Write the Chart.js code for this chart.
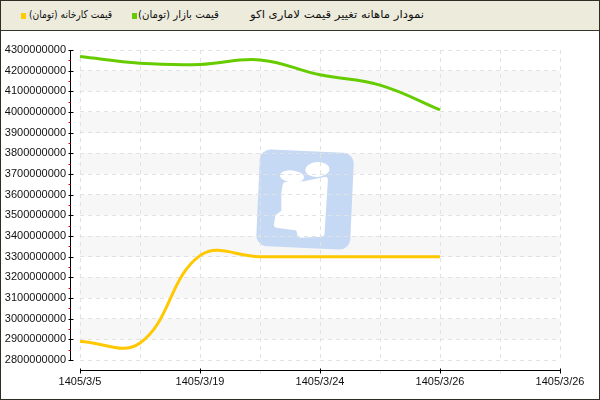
<!DOCTYPE html>
<html>
<head>
<meta charset="utf-8">
<script src="https://cdn.jsdelivr.net/npm/chart.js@4"></script>
<style>
  body { margin: 0; background: #fff; }
  #wrap { position: relative; width: 600px; height: 400px; overflow: hidden; }
  #chart { position: absolute; left: 0; top: 0; }
  #head { position: absolute; left: 0; top: 0; width: 600px; height: 30px; background: #ecebdc;
          border-bottom: 1px solid #35352a; font: 11px "DejaVu Sans"; color: #111; }
  #head span { position: absolute; top: 8px; white-space: nowrap; direction: rtl; transform-origin: left center; }
  #head i { position: absolute; top: 13px; width: 5px; height: 6px; }
  #frame { position: absolute; left: 0; top: 0; width: 598px; height: 398px; border: 1px solid #2d2d24; pointer-events: none; }
</style>
</head>
<body>
<div id="wrap">
  <canvas id="chart" width="600" height="400"></canvas>
  <div id="head">
    <i style="left:21px;background:#ffcc00"></i>
    <span data-w="83" style="left:29px">قیمت کارخانه (تومان)</span>
    <i style="left:132px;background:#66cc00"></i>
    <span data-w="81" style="left:138px">قیمت بازار (تومان)</span>
    <span data-w="174" style="left:250px">نمودار ماهانه تغییر قیمت لاماری اکو</span>
  </div>
  <div id="frame"></div>
</div>
<script>
const categories = ['1405/3/5', '', '1405/3/19', '', '1405/3/24', '', '1405/3/26', '', '1405/3/26'];
const marketPrices = [4268000000, 4236000000, 4230000000, 4252000000, 4180000000, 4130000000, 4010000000];
const factoryPrices = [2890000000, 2882000000, 3305000000, 3300000000, 3300000000, 3300000000, 3300000000];
const yMin = 2800000000;
const yMax = 4300000000;
const yStep = 100000000;

// squeeze the wide DejaVu Arabic glyphs to the widths seen in the picture
document.querySelectorAll('#head span').forEach(s => {
    const w = s.getBoundingClientRect().width;
    s.style.transform = 'scaleX(' + (s.dataset.w / w) + ')';
});

// shaded bands + logo behind the grid
const backdrop = {
    id: 'backdrop',
    beforeDraw(chart) {
        const {ctx, chartArea: a, scales: {y}} = chart;
        ctx.save();
        ctx.fillStyle = '#f7f7f7';
        for (let v = yMin + yStep; v < yMax; v += 2 * yStep) {
            const t = y.getPixelForValue(v + yStep), b = y.getPixelForValue(v);
            ctx.fillRect(a.left, t, a.right - a.left, b - t);
        }
        // watermark
        ctx.translate(305, 200);
        ctx.rotate(0.045);
        ctx.fillStyle = 'rgb(197,216,244)';
        ctx.beginPath();
        ctx.roundRect(-47, -49, 94, 97, 11);
        ctx.fill();
        ctx.fillStyle = '#fff';
        ctx.strokeStyle = '#fff';
        ctx.lineJoin = 'round';
        ctx.lineWidth = 6;
        ctx.beginPath();
        ctx.ellipse(11, -31, 12, 7.5, -0.1, 0, Math.PI * 2);
        ctx.fill();
        ctx.beginPath();
        ctx.ellipse(-14, -23, 12, 6, 0.05, 0, Math.PI * 2);
        ctx.fill();
        ctx.beginPath();
        ctx.moveTo(-20, -14);
        ctx.lineTo(0, -16);
        ctx.lineTo(19, -21);
        ctx.lineTo(18, 33);
        ctx.lineTo(-3, 35);
        ctx.lineTo(-5, 28);
        ctx.lineTo(-27, 26);
        ctx.lineTo(-26, 18);
        ctx.lineTo(-20, 13);
        ctx.lineTo(-21, -5);
        ctx.closePath();
        ctx.fill();
        ctx.stroke();
        ctx.restore();
    }
};

// axis lines sit 10px away from the plot, with black and red ticks
const axes = {
    id: 'axes',
    afterDraw(chart) {
        const {ctx, chartArea: a, scales: {x, y}} = chart;
        const ax = a.left - 10 + 0.5, ay = a.bottom + 10 + 0.5;
        ctx.save();
        ctx.lineWidth = 1;
        ctx.strokeStyle = '#000';
        ctx.beginPath();
        ctx.moveTo(ax, a.top);
        ctx.lineTo(ax, a.bottom);
        ctx.moveTo(a.left, ay);
        ctx.lineTo(a.right, ay);
        for (let v = yMin; v <= yMax; v += yStep) {
            const py = Math.round(y.getPixelForValue(v)) + 0.5;
            ctx.moveTo(ax - 2, py);
            ctx.lineTo(ax + 3, py);
        }
        categories.forEach((c, i) => {
            if (!c) return;
            const px = Math.round(x.getPixelForValue(i)) + 0.5;
            ctx.moveTo(px, ay - 2);
            ctx.lineTo(px, ay + 3);
        });
        ctx.stroke();
        ctx.strokeStyle = '#e00000';
        ctx.beginPath();
        for (let v = yMin + yStep / 2; v < yMax; v += yStep) {
            const py = Math.round(y.getPixelForValue(v)) + 0.5;
            ctx.moveTo(ax - 2, py);
            ctx.lineTo(ax, py);
        }
        ctx.stroke();
        ctx.strokeStyle = '#d8d8d8';
        ctx.beginPath();
        categories.forEach((c, i) => {
            if (c) return;
            const px = Math.round(x.getPixelForValue(i)) + 0.5;
            ctx.moveTo(px, ay + 1);
            ctx.lineTo(px, ay + 3);
        });
        ctx.stroke();
        ctx.restore();
    }
};

const tickFont = {family: '"Liberation Sans", Arial, sans-serif', size: 11};

new Chart(document.getElementById('chart'), {
    type: 'line',
    data: {
        labels: categories,
        datasets: [
            {
                label: 'قیمت بازار (تومان)',
                data: marketPrices,
                borderColor: '#66cc00',
                borderWidth: 3,
                pointRadius: 0,
                tension: 0.4,
                fill: false
            },
            {
                label: 'قیمت کارخانه (تومان)',
                data: factoryPrices,
                borderColor: '#ffc800',
                borderWidth: 3,
                pointRadius: 0,
                tension: 0.4,
                fill: false
            }
        ]
    },
    options: {
        responsive: false,
        animation: false,
        layout: {padding: {top: 50, right: 40, bottom: 10, left: 0}},
        plugins: {
            legend: {display: false},
            title: {display: false},
            tooltip: {enabled: false}
        },
        scales: {
            x: {
                offset: false,
                grid: {color: '#e2e2e2', drawTicks: false},
                border: {display: false, dash: [4, 4]},
                ticks: {autoSkip: false, maxRotation: 0, padding: 15, color: '#111', font: tickFont},
                afterFit(s) { s.height = 30; }
            },
            y: {
                min: yMin,
                max: yMax,
                grid: {color: '#e2e2e2', drawTicks: false},
                border: {display: false, dash: [4, 4]},
                ticks: {
                    stepSize: yStep,
                    autoSkip: false,
                    padding: 14,
                    color: '#111',
                    font: tickFont,
                    callback: v => String(v)
                },
                afterFit(s) { s.width = 80; }
            }
        }
    },
    plugins: [backdrop, axes]
});
</script>
</body>
</html>
